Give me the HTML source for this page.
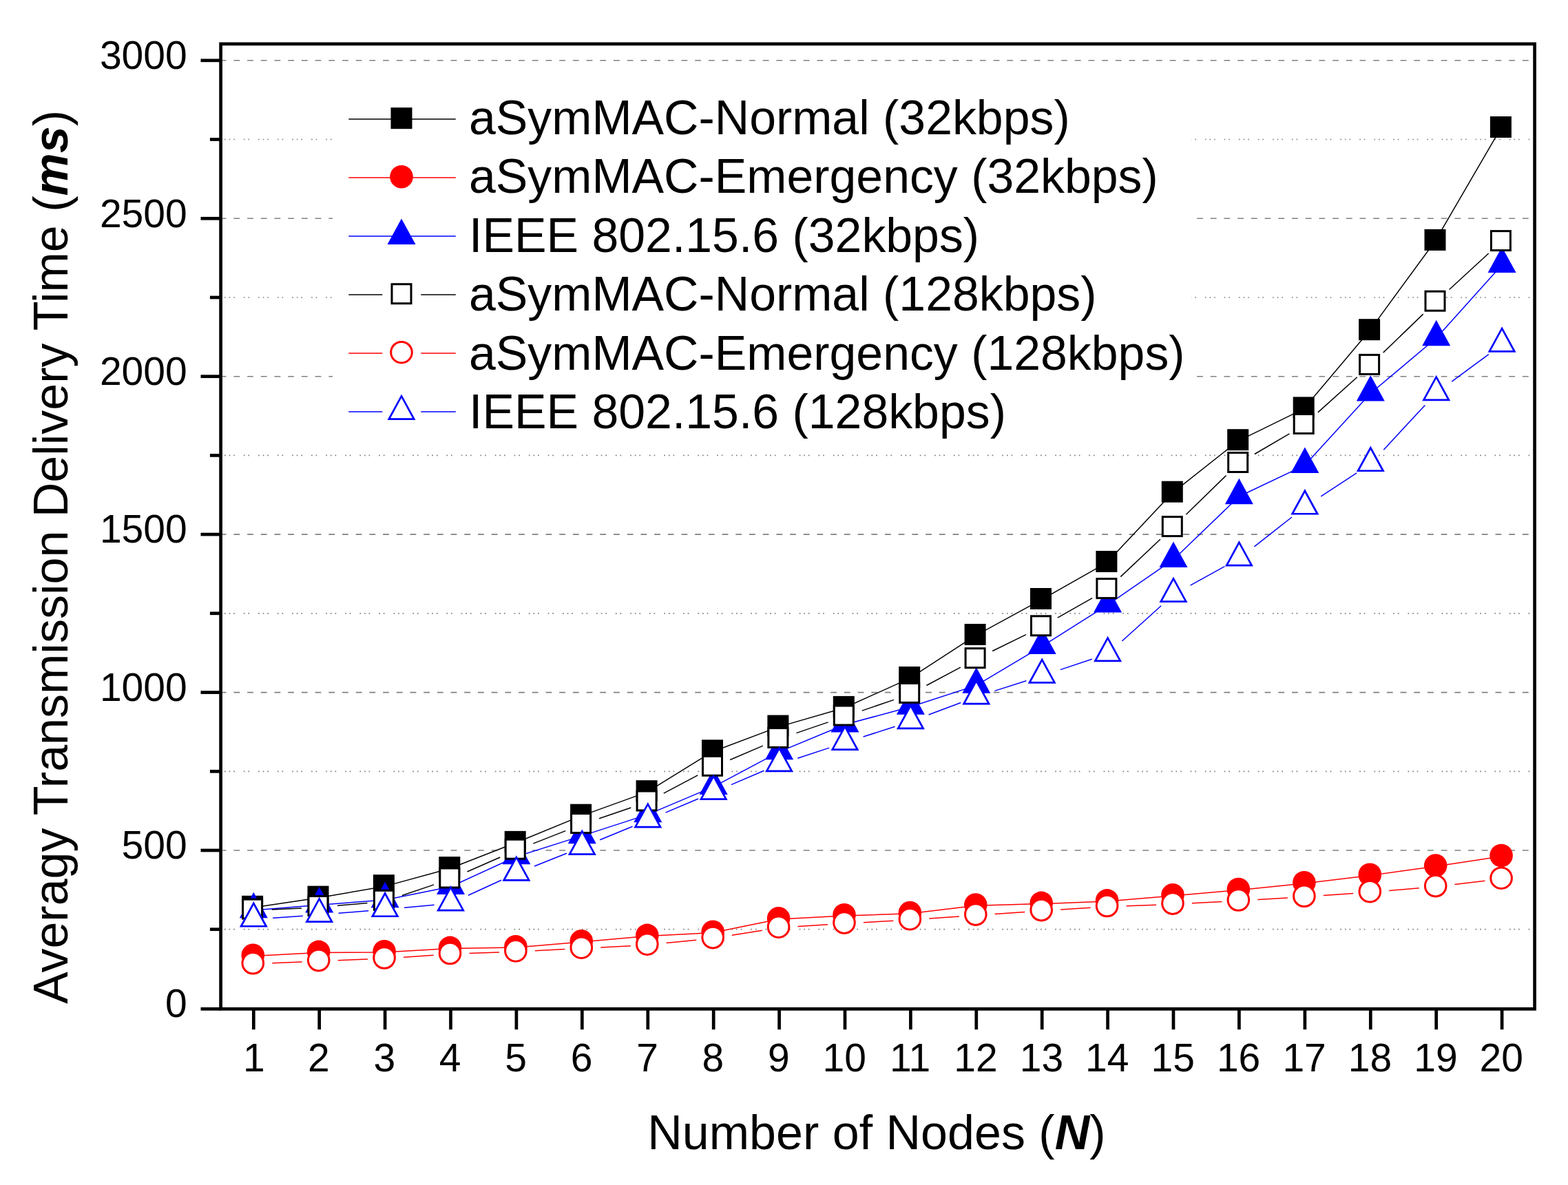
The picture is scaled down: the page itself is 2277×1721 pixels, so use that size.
<!DOCTYPE html>
<html><head><meta charset="utf-8"><title>Average Transmission Delivery Time</title>
<style>html,body{margin:0;padding:0;background:#fff;overflow:hidden}svg{display:block}text{font-family:"Liberation Sans",Arial,sans-serif}</style>
</head><body>
<svg width="2277" height="1721" viewBox="0 0 2277 1721">
<rect x="0" y="0" width="2277" height="1721" fill="#fff"/>
<g fill="none" stroke="#808080">
<line x1="323" y1="1349.7" x2="2226.2" y2="1349.7" stroke-width="1.7" stroke-dasharray="1.7 4.9 1.7 4.9 1.7 12.9 1.7 4.9 1.7 13.0" stroke-dashoffset="-3"/>
<line x1="323" y1="1235" x2="2226.2" y2="1235" stroke-width="1.6" stroke-dasharray="8.8 10.9" stroke-dashoffset="-16.4"/>
<line x1="323" y1="1120.3" x2="2226.2" y2="1120.3" stroke-width="1.7" stroke-dasharray="1.7 4.9 1.7 4.9 1.7 12.9 1.7 4.9 1.7 13.0" stroke-dashoffset="-3"/>
<line x1="323" y1="1005.6" x2="2226.2" y2="1005.6" stroke-width="1.6" stroke-dasharray="8.8 10.9" stroke-dashoffset="-16.4"/>
<line x1="323" y1="890.8" x2="2226.2" y2="890.8" stroke-width="1.7" stroke-dasharray="1.7 4.9 1.7 4.9 1.7 12.9 1.7 4.9 1.7 13.0" stroke-dashoffset="-3"/>
<line x1="323" y1="776.1" x2="2226.2" y2="776.1" stroke-width="1.6" stroke-dasharray="8.8 10.9" stroke-dashoffset="-16.4"/>
<line x1="323" y1="661.4" x2="2226.2" y2="661.4" stroke-width="1.7" stroke-dasharray="1.7 4.9 1.7 4.9 1.7 12.9 1.7 4.9 1.7 13.0" stroke-dashoffset="-3"/>
<line x1="323" y1="546.7" x2="2226.2" y2="546.7" stroke-width="1.6" stroke-dasharray="8.8 10.9" stroke-dashoffset="-16.4"/>
<line x1="323" y1="432" x2="2226.2" y2="432" stroke-width="1.7" stroke-dasharray="1.7 4.9 1.7 4.9 1.7 12.9 1.7 4.9 1.7 13.0" stroke-dashoffset="-3"/>
<line x1="323" y1="317.3" x2="2226.2" y2="317.3" stroke-width="1.6" stroke-dasharray="8.8 10.9" stroke-dashoffset="-16.4"/>
<line x1="323" y1="202.5" x2="2226.2" y2="202.5" stroke-width="1.7" stroke-dasharray="1.7 4.9 1.7 4.9 1.7 12.9 1.7 4.9 1.7 13.0" stroke-dashoffset="-3"/>
<line x1="323" y1="87.8" x2="2226.2" y2="87.8" stroke-width="1.6" stroke-dasharray="8.8 10.9" stroke-dashoffset="-16.4"/>
</g>
<rect x="483" y="110" width="1247" height="540" fill="#fff"/>
<g>
<path d="M366.6 1318.2 L462 1304 L557.4 1287.6 L652.8 1261.5 L748.2 1224.3 L843.6 1185.1 L939.1 1150.6 L1034.5 1091.7 L1129.9 1055.9 L1225.3 1028.3 L1320.7 985.4 L1416.1 923.4 L1511.5 871.4 L1606.9 817.4 L1702.3 716.1 L1797.7 640.6 L1893.2 593.8 L1988.6 480.6 L2084 350.3 L2179.4 186.4" fill="none" stroke="#000000" stroke-width="1.5" stroke-linejoin="round"/>
<rect x="351.1" y="1300.8" width="31" height="31" fill="#000000"/>
<rect x="446.5" y="1286.6" width="31" height="31" fill="#000000"/>
<rect x="541.9" y="1270.2" width="31" height="31" fill="#000000"/>
<rect x="637.3" y="1244.1" width="31" height="31" fill="#000000"/>
<rect x="732.7" y="1206.9" width="31" height="31" fill="#000000"/>
<rect x="828.1" y="1167.7" width="31" height="31" fill="#000000"/>
<rect x="923.6" y="1133.2" width="31" height="31" fill="#000000"/>
<rect x="1019" y="1074.3" width="31" height="31" fill="#000000"/>
<rect x="1114.4" y="1038.5" width="31" height="31" fill="#000000"/>
<rect x="1209.8" y="1010.9" width="31" height="31" fill="#000000"/>
<rect x="1305.2" y="968" width="31" height="31" fill="#000000"/>
<rect x="1400.6" y="906" width="31" height="31" fill="#000000"/>
<rect x="1496" y="854" width="31" height="31" fill="#000000"/>
<rect x="1591.4" y="800" width="31" height="31" fill="#000000"/>
<rect x="1686.8" y="698.7" width="31" height="31" fill="#000000"/>
<rect x="1782.2" y="623.2" width="31" height="31" fill="#000000"/>
<rect x="1877.7" y="576.4" width="31" height="31" fill="#000000"/>
<rect x="1973.1" y="463.2" width="31" height="31" fill="#000000"/>
<rect x="2068.5" y="332.9" width="31" height="31" fill="#000000"/>
<rect x="2163.9" y="169" width="31" height="31" fill="#000000"/>
</g>
<g>
<path d="M367.3 1388.5 L462.7 1383.6 L558.1 1382.9 L653.5 1377.6 L748.9 1376 L844.3 1368 L939.8 1359.6 L1035.2 1354.5 L1130.6 1335 L1226 1329.9 L1321.4 1326.8 L1416.8 1315.3 L1512.2 1312.6 L1607.6 1309.1 L1703 1301 L1798.4 1292.7 L1893.9 1282.9 L1989.3 1271.4 L2084.7 1258.3 L2180.1 1243.7" fill="none" stroke="#ff0000" stroke-width="1.5" stroke-linejoin="round"/>
<circle cx="367.3" cy="1387.3" r="16.8" fill="#ff0000"/>
<circle cx="462.7" cy="1382.4" r="16.8" fill="#ff0000"/>
<circle cx="558.1" cy="1381.7" r="16.8" fill="#ff0000"/>
<circle cx="653.5" cy="1376.4" r="16.8" fill="#ff0000"/>
<circle cx="748.9" cy="1374.8" r="16.8" fill="#ff0000"/>
<circle cx="844.3" cy="1366.8" r="16.8" fill="#ff0000"/>
<circle cx="939.8" cy="1358.4" r="16.8" fill="#ff0000"/>
<circle cx="1035.2" cy="1353.3" r="16.8" fill="#ff0000"/>
<circle cx="1130.6" cy="1333.8" r="16.8" fill="#ff0000"/>
<circle cx="1226" cy="1328.7" r="16.8" fill="#ff0000"/>
<circle cx="1321.4" cy="1325.6" r="16.8" fill="#ff0000"/>
<circle cx="1416.8" cy="1314.1" r="16.8" fill="#ff0000"/>
<circle cx="1512.2" cy="1311.4" r="16.8" fill="#ff0000"/>
<circle cx="1607.6" cy="1307.9" r="16.8" fill="#ff0000"/>
<circle cx="1703" cy="1299.8" r="16.8" fill="#ff0000"/>
<circle cx="1798.4" cy="1291.5" r="16.8" fill="#ff0000"/>
<circle cx="1893.9" cy="1281.7" r="16.8" fill="#ff0000"/>
<circle cx="1989.3" cy="1270.2" r="16.8" fill="#ff0000"/>
<circle cx="2084.7" cy="1257.1" r="16.8" fill="#ff0000"/>
<circle cx="2180.1" cy="1242.5" r="16.8" fill="#ff0000"/>
</g>
<g>
<path d="M368.3 1321.9 L463.7 1314.2 L559.1 1306.9 L654.5 1287.7 L749.9 1244 L845.3 1213.9 L940.8 1182.9 L1036.2 1142.6 L1131.6 1091.9 L1227 1052.3 L1322.4 1026.5 L1417.8 995.4 L1513.2 938.6 L1608.6 878.3 L1704 812.7 L1799.4 721 L1894.9 675.6 L1990.3 571.3 L2085.7 491 L2181.1 384.7" fill="none" stroke="#0000ff" stroke-width="1.5" stroke-linejoin="round"/>
<polygon points="368.3,1295.7 347.8,1333.2 388.8,1333.2" fill="#0000ff"/>
<polygon points="463.7,1288 443.2,1325.5 484.2,1325.5" fill="#0000ff"/>
<polygon points="559.1,1280.7 538.6,1318.2 579.6,1318.2" fill="#0000ff"/>
<polygon points="654.5,1261.5 634,1299 675,1299" fill="#0000ff"/>
<polygon points="749.9,1217.8 729.4,1255.3 770.4,1255.3" fill="#0000ff"/>
<polygon points="845.3,1187.7 824.8,1225.2 865.8,1225.2" fill="#0000ff"/>
<polygon points="940.8,1156.7 920.3,1194.2 961.3,1194.2" fill="#0000ff"/>
<polygon points="1036.2,1116.4 1015.7,1153.9 1056.7,1153.9" fill="#0000ff"/>
<polygon points="1131.6,1065.7 1111.1,1103.2 1152.1,1103.2" fill="#0000ff"/>
<polygon points="1227,1026.1 1206.5,1063.6 1247.5,1063.6" fill="#0000ff"/>
<polygon points="1322.4,1000.3 1301.9,1037.8 1342.9,1037.8" fill="#0000ff"/>
<polygon points="1417.8,969.2 1397.3,1006.7 1438.3,1006.7" fill="#0000ff"/>
<polygon points="1513.2,912.4 1492.7,949.9 1533.7,949.9" fill="#0000ff"/>
<polygon points="1608.6,852.1 1588.1,889.6 1629.1,889.6" fill="#0000ff"/>
<polygon points="1704,786.5 1683.5,824 1724.5,824" fill="#0000ff"/>
<polygon points="1799.4,694.8 1778.9,732.3 1819.9,732.3" fill="#0000ff"/>
<polygon points="1894.9,649.4 1874.4,686.9 1915.4,686.9" fill="#0000ff"/>
<polygon points="1990.3,545.1 1969.8,582.6 2010.8,582.6" fill="#0000ff"/>
<polygon points="2085.7,464.8 2065.2,502.3 2106.2,502.3" fill="#0000ff"/>
<polygon points="2181.1,358.5 2160.6,396 2201.6,396" fill="#0000ff"/>
</g>
<g>
<path d="M394.6 1321 L438 1318.9 M489.9 1315.3 L533.5 1311.6 M583.9 1300.5 L630.1 1284.9 M678.5 1266 L726.3 1245 M774.3 1225.1 L821.3 1206.6 M870.1 1188.7 L916.3 1173 M963.8 1152.1 L1013.3 1125.8 M1060.2 1103.5 L1107.8 1083.1 M1156.4 1064.6 L1202.6 1048.9 M1251.8 1032.1 L1298 1016.4 M1345.4 995.5 L1394.9 969.2 M1441.2 945.5 L1490 921.6 M1535.9 897.2 L1586.1 868.7 M1627.3 837.6 L1684.9 783.3 M1722.4 747.2 L1780.6 690.5 M1821.9 659.5 L1872.5 629.8 M1913.9 598.9 L1970.8 547.7 M2008.7 512.1 L2066.7 456.1 M2104.6 420.5 L2161.7 368" fill="none" stroke="#000000" stroke-width="1.5"/>
<rect x="352.6" y="1306.1" width="28" height="28" fill="#fff" stroke="#000000" stroke-width="3"/>
<rect x="448" y="1301.5" width="28" height="28" fill="#fff" stroke="#000000" stroke-width="3"/>
<rect x="543.4" y="1293.3" width="28" height="28" fill="#fff" stroke="#000000" stroke-width="3"/>
<rect x="638.8" y="1261" width="28" height="28" fill="#fff" stroke="#000000" stroke-width="3"/>
<rect x="734.2" y="1219.2" width="28" height="28" fill="#fff" stroke="#000000" stroke-width="3"/>
<rect x="829.6" y="1181.6" width="28" height="28" fill="#fff" stroke="#000000" stroke-width="3"/>
<rect x="925.1" y="1149" width="28" height="28" fill="#fff" stroke="#000000" stroke-width="3"/>
<rect x="1020.5" y="1098.3" width="28" height="28" fill="#fff" stroke="#000000" stroke-width="3"/>
<rect x="1115.9" y="1057.4" width="28" height="28" fill="#fff" stroke="#000000" stroke-width="3"/>
<rect x="1211.3" y="1025" width="28" height="28" fill="#fff" stroke="#000000" stroke-width="3"/>
<rect x="1306.7" y="992.4" width="28" height="28" fill="#fff" stroke="#000000" stroke-width="3"/>
<rect x="1402.1" y="941.7" width="28" height="28" fill="#fff" stroke="#000000" stroke-width="3"/>
<rect x="1497.5" y="894.8" width="28" height="28" fill="#fff" stroke="#000000" stroke-width="3"/>
<rect x="1592.9" y="840.6" width="28" height="28" fill="#fff" stroke="#000000" stroke-width="3"/>
<rect x="1688.3" y="750.6" width="28" height="28" fill="#fff" stroke="#000000" stroke-width="3"/>
<rect x="1783.7" y="657.5" width="28" height="28" fill="#fff" stroke="#000000" stroke-width="3"/>
<rect x="1879.2" y="601.5" width="28" height="28" fill="#fff" stroke="#000000" stroke-width="3"/>
<rect x="1974.6" y="515.4" width="28" height="28" fill="#fff" stroke="#000000" stroke-width="3"/>
<rect x="2070" y="423.2" width="28" height="28" fill="#fff" stroke="#000000" stroke-width="3"/>
<rect x="2165.4" y="335.6" width="28" height="28" fill="#fff" stroke="#000000" stroke-width="3"/>
</g>
<g>
<path d="M395.3 1398.8 L438.7 1396.9 M490.7 1394.7 L534.1 1393.1 M586.1 1390.3 L629.6 1387.3 M681.5 1384.6 L725 1383 M776.9 1380.7 L820.4 1378.6 M872.3 1375.9 L915.8 1373.7 M967.6 1369.6 L1011.3 1365.2 M1062.8 1358.3 L1106.9 1351.2 M1158.5 1345.6 L1202 1342.8 M1253.9 1339.7 L1297.4 1337.3 M1349.3 1334 L1392.9 1331 M1444.7 1327.4 L1488.3 1324.4 M1540.2 1321 L1583.7 1318.2 M1635.6 1315.7 L1679.1 1314.2 M1731 1311.8 L1774.5 1309.5 M1826.4 1306.5 L1869.9 1303.9 M1921.8 1300.6 L1965.3 1297.6 M2017.2 1293.5 L2060.8 1289.8 M2112.5 1284.5 L2156.3 1279.2" fill="none" stroke="#ff0000" stroke-width="1.5"/>
<circle cx="367.3" cy="1398.8" r="15.3" fill="#fff" stroke="#ff0000" stroke-width="3"/>
<circle cx="462.7" cy="1394.6" r="15.3" fill="#fff" stroke="#ff0000" stroke-width="3"/>
<circle cx="558.1" cy="1391" r="15.3" fill="#fff" stroke="#ff0000" stroke-width="3"/>
<circle cx="653.5" cy="1384.5" r="15.3" fill="#fff" stroke="#ff0000" stroke-width="3"/>
<circle cx="748.9" cy="1380.9" r="15.3" fill="#fff" stroke="#ff0000" stroke-width="3"/>
<circle cx="844.3" cy="1376.2" r="15.3" fill="#fff" stroke="#ff0000" stroke-width="3"/>
<circle cx="939.8" cy="1371.2" r="15.3" fill="#fff" stroke="#ff0000" stroke-width="3"/>
<circle cx="1035.2" cy="1361.6" r="15.3" fill="#fff" stroke="#ff0000" stroke-width="3"/>
<circle cx="1130.6" cy="1346.2" r="15.3" fill="#fff" stroke="#ff0000" stroke-width="3"/>
<circle cx="1226" cy="1340.1" r="15.3" fill="#fff" stroke="#ff0000" stroke-width="3"/>
<circle cx="1321.4" cy="1334.7" r="15.3" fill="#fff" stroke="#ff0000" stroke-width="3"/>
<circle cx="1416.8" cy="1328.1" r="15.3" fill="#fff" stroke="#ff0000" stroke-width="3"/>
<circle cx="1512.2" cy="1321.6" r="15.3" fill="#fff" stroke="#ff0000" stroke-width="3"/>
<circle cx="1607.6" cy="1315.5" r="15.3" fill="#fff" stroke="#ff0000" stroke-width="3"/>
<circle cx="1703" cy="1312.1" r="15.3" fill="#fff" stroke="#ff0000" stroke-width="3"/>
<circle cx="1798.4" cy="1307" r="15.3" fill="#fff" stroke="#ff0000" stroke-width="3"/>
<circle cx="1893.9" cy="1301.3" r="15.3" fill="#fff" stroke="#ff0000" stroke-width="3"/>
<circle cx="1989.3" cy="1294.7" r="15.3" fill="#fff" stroke="#ff0000" stroke-width="3"/>
<circle cx="2084.7" cy="1286.6" r="15.3" fill="#fff" stroke="#ff0000" stroke-width="3"/>
<circle cx="2180.1" cy="1275.2" r="15.3" fill="#fff" stroke="#ff0000" stroke-width="3"/>
</g>
<g>
<path d="M396.2 1333.2 L439.8 1330.2 M491.6 1326.2 L535.2 1322.7 M587 1318.2 L630.6 1314.2 M680 1300.3 L728.1 1278.3 M776 1258 L823 1239.3 M871.2 1219.8 L918.6 1200.2 M966.5 1180.1 L1014.1 1160 M1061.9 1139.6 L1109.5 1119.3 M1158.2 1101.2 L1204.2 1086.1 M1253.6 1070 L1299.6 1055.3 M1348.6 1038 L1395.3 1020.5 M1444.5 1003.4 L1490.4 988.7 M1539.8 972.6 L1585.8 957.3 M1629.4 931 L1686.2 879.7 M1728.6 850.1 L1778.4 822.7 M1821.5 793.8 L1876 751 M1918.3 720.9 L1970.2 686.9 M2009.3 653.2 L2069.4 588.4 M2108.2 554.2 L2161.8 514.6" fill="none" stroke="#0000ff" stroke-width="1.5"/>
<polygon points="368.3,1309.1 347.8,1346.6 388.8,1346.6" fill="#0000ff"/><polygon points="368.3,1314.7 352.4,1343.9 384.2,1343.9" fill="#fff"/>
<polygon points="463.7,1302.4 443.2,1339.9 484.2,1339.9" fill="#0000ff"/><polygon points="463.7,1308 447.8,1337.2 479.7,1337.2" fill="#fff"/>
<polygon points="559.1,1294.6 538.6,1332.1 579.6,1332.1" fill="#0000ff"/><polygon points="559.1,1300.2 543.2,1329.4 575.1,1329.4" fill="#fff"/>
<polygon points="654.5,1285.9 634,1323.4 675,1323.4" fill="#0000ff"/><polygon points="654.5,1291.5 638.6,1320.7 670.5,1320.7" fill="#fff"/>
<polygon points="749.9,1242.2 729.4,1279.7 770.4,1279.7" fill="#0000ff"/><polygon points="749.9,1247.8 734,1277 765.9,1277" fill="#fff"/>
<polygon points="845.3,1204.4 824.8,1241.9 865.8,1241.9" fill="#0000ff"/><polygon points="845.3,1210 829.4,1239.2 861.3,1239.2" fill="#fff"/>
<polygon points="940.8,1164.9 920.3,1202.4 961.3,1202.4" fill="#0000ff"/><polygon points="940.8,1170.5 924.8,1199.7 956.7,1199.7" fill="#fff"/>
<polygon points="1036.2,1124.5 1015.7,1162 1056.7,1162" fill="#0000ff"/><polygon points="1036.2,1130.1 1020.2,1159.3 1052.1,1159.3" fill="#fff"/>
<polygon points="1131.6,1083.8 1111.1,1121.3 1152.1,1121.3" fill="#0000ff"/><polygon points="1131.6,1089.4 1115.6,1118.6 1147.5,1118.6" fill="#fff"/>
<polygon points="1227,1052.5 1206.5,1090 1247.5,1090" fill="#0000ff"/><polygon points="1227,1058.1 1211,1087.3 1242.9,1087.3" fill="#fff"/>
<polygon points="1322.4,1021.8 1301.9,1059.3 1342.9,1059.3" fill="#0000ff"/><polygon points="1322.4,1027.4 1306.5,1056.6 1338.3,1056.6" fill="#fff"/>
<polygon points="1417.8,985.9 1397.3,1023.4 1438.3,1023.4" fill="#0000ff"/><polygon points="1417.8,991.5 1401.9,1020.7 1433.8,1020.7" fill="#fff"/>
<polygon points="1513.2,955.3 1492.7,992.8 1533.7,992.8" fill="#0000ff"/><polygon points="1513.2,960.9 1497.3,990.1 1529.2,990.1" fill="#fff"/>
<polygon points="1608.6,923.7 1588.1,961.2 1629.1,961.2" fill="#0000ff"/><polygon points="1608.6,929.3 1592.7,958.5 1624.6,958.5" fill="#fff"/>
<polygon points="1704,837.5 1683.5,875 1724.5,875" fill="#0000ff"/><polygon points="1704,843.1 1688.1,872.3 1720,872.3" fill="#fff"/>
<polygon points="1799.4,785 1778.9,822.5 1819.9,822.5" fill="#0000ff"/><polygon points="1799.4,790.6 1783.5,819.8 1815.4,819.8" fill="#fff"/>
<polygon points="1894.9,710.1 1874.4,747.6 1915.4,747.6" fill="#0000ff"/><polygon points="1894.9,715.7 1878.9,744.9 1910.8,744.9" fill="#fff"/>
<polygon points="1990.3,647.6 1969.8,685.1 2010.8,685.1" fill="#0000ff"/><polygon points="1990.3,653.2 1974.3,682.4 2006.2,682.4" fill="#fff"/>
<polygon points="2085.7,544.7 2065.2,582.2 2106.2,582.2" fill="#0000ff"/><polygon points="2085.7,550.3 2069.7,579.5 2101.6,579.5" fill="#fff"/>
<polygon points="2181.1,474.2 2160.6,511.7 2201.6,511.7" fill="#0000ff"/><polygon points="2181.1,479.8 2165.1,509 2197,509" fill="#fff"/>
</g>
<rect x="320.6" y="63.8" width="1908" height="1401.5" fill="none" stroke="#000" stroke-width="4.7" stroke-linejoin="miter"/>
<line x1="291.5" y1="1465.3" x2="320.6" y2="1465.3" stroke="#000" stroke-width="4.7"/>
<line x1="304.9" y1="1349.7" x2="320.6" y2="1349.7" stroke="#000" stroke-width="4.7"/>
<line x1="291.5" y1="1235" x2="320.6" y2="1235" stroke="#000" stroke-width="4.7"/>
<line x1="304.9" y1="1120.3" x2="320.6" y2="1120.3" stroke="#000" stroke-width="4.7"/>
<line x1="291.5" y1="1005.6" x2="320.6" y2="1005.6" stroke="#000" stroke-width="4.7"/>
<line x1="304.9" y1="890.8" x2="320.6" y2="890.8" stroke="#000" stroke-width="4.7"/>
<line x1="291.5" y1="776.1" x2="320.6" y2="776.1" stroke="#000" stroke-width="4.7"/>
<line x1="304.9" y1="661.4" x2="320.6" y2="661.4" stroke="#000" stroke-width="4.7"/>
<line x1="291.5" y1="546.7" x2="320.6" y2="546.7" stroke="#000" stroke-width="4.7"/>
<line x1="304.9" y1="432" x2="320.6" y2="432" stroke="#000" stroke-width="4.7"/>
<line x1="291.5" y1="317.3" x2="320.6" y2="317.3" stroke="#000" stroke-width="4.7"/>
<line x1="304.9" y1="202.5" x2="320.6" y2="202.5" stroke="#000" stroke-width="4.7"/>
<line x1="291.5" y1="87.8" x2="320.6" y2="87.8" stroke="#000" stroke-width="4.7"/>
<line x1="368.3" y1="1465.3" x2="368.3" y2="1495.2" stroke="#000" stroke-width="4.7"/>
<line x1="463.7" y1="1465.3" x2="463.7" y2="1495.2" stroke="#000" stroke-width="4.7"/>
<line x1="559.1" y1="1465.3" x2="559.1" y2="1495.2" stroke="#000" stroke-width="4.7"/>
<line x1="654.5" y1="1465.3" x2="654.5" y2="1495.2" stroke="#000" stroke-width="4.7"/>
<line x1="749.9" y1="1465.3" x2="749.9" y2="1495.2" stroke="#000" stroke-width="4.7"/>
<line x1="845.3" y1="1465.3" x2="845.3" y2="1495.2" stroke="#000" stroke-width="4.7"/>
<line x1="940.8" y1="1465.3" x2="940.8" y2="1495.2" stroke="#000" stroke-width="4.7"/>
<line x1="1036.2" y1="1465.3" x2="1036.2" y2="1495.2" stroke="#000" stroke-width="4.7"/>
<line x1="1131.6" y1="1465.3" x2="1131.6" y2="1495.2" stroke="#000" stroke-width="4.7"/>
<line x1="1227" y1="1465.3" x2="1227" y2="1495.2" stroke="#000" stroke-width="4.7"/>
<line x1="1322.4" y1="1465.3" x2="1322.4" y2="1495.2" stroke="#000" stroke-width="4.7"/>
<line x1="1417.8" y1="1465.3" x2="1417.8" y2="1495.2" stroke="#000" stroke-width="4.7"/>
<line x1="1513.2" y1="1465.3" x2="1513.2" y2="1495.2" stroke="#000" stroke-width="4.7"/>
<line x1="1608.6" y1="1465.3" x2="1608.6" y2="1495.2" stroke="#000" stroke-width="4.7"/>
<line x1="1704" y1="1465.3" x2="1704" y2="1495.2" stroke="#000" stroke-width="4.7"/>
<line x1="1799.4" y1="1465.3" x2="1799.4" y2="1495.2" stroke="#000" stroke-width="4.7"/>
<line x1="1894.9" y1="1465.3" x2="1894.9" y2="1495.2" stroke="#000" stroke-width="4.7"/>
<line x1="1990.3" y1="1465.3" x2="1990.3" y2="1495.2" stroke="#000" stroke-width="4.7"/>
<line x1="2085.7" y1="1465.3" x2="2085.7" y2="1495.2" stroke="#000" stroke-width="4.7"/>
<line x1="2181.1" y1="1465.3" x2="2181.1" y2="1495.2" stroke="#000" stroke-width="4.7"/>
<g font-size="57" fill="#000" text-anchor="end">
<text x="271.7" y="1476.7">0</text>
<text x="271.7" y="1247.3">500</text>
<text x="271.7" y="1017.9">1000</text>
<text x="271.7" y="788.4">1500</text>
<text x="271.7" y="559">2000</text>
<text x="271.7" y="329.6">2500</text>
<text x="271.7" y="100.1">3000</text>
</g>
<g font-size="57" fill="#000" text-anchor="middle">
<text x="368.8" y="1555.8">1</text>
<text x="462.9" y="1555.8">2</text>
<text x="558.3" y="1555.8">3</text>
<text x="653.7" y="1555.8">4</text>
<text x="749.1" y="1555.8">5</text>
<text x="844.5" y="1555.8">6</text>
<text x="940" y="1555.8">7</text>
<text x="1035.4" y="1555.8">8</text>
<text x="1130.8" y="1555.8">9</text>
<text x="1226.2" y="1555.8">10</text>
<text x="1321.6" y="1555.8">11</text>
<text x="1417" y="1555.8">12</text>
<text x="1512.4" y="1555.8">13</text>
<text x="1607.8" y="1555.8">14</text>
<text x="1703.2" y="1555.8">15</text>
<text x="1798.6" y="1555.8">16</text>
<text x="1894.1" y="1555.8">17</text>
<text x="1989.5" y="1555.8">18</text>
<text x="2084.9" y="1555.8">19</text>
<text x="2180.3" y="1555.8">20</text>
</g>
<text x="940.3" y="1668.5" font-size="70" fill="#000">Number of Nodes (<tspan font-weight="bold" font-style="italic">N</tspan>)</text>
<text transform="translate(97.5 1458) rotate(-90)" font-size="70" fill="#000">Averagy Transmission Delivery Time (<tspan font-weight="bold" font-style="italic">ms</tspan>)</text>
<line x1="506.3" y1="173" x2="661.8" y2="173" stroke="#000000" stroke-width="1.5"/>
<rect x="567.5" y="156.2" width="31" height="31" fill="#000000"/>
<text x="681" y="194.9" font-size="69.8" fill="#000">aSymMAC-Normal (32kbps)</text>
<line x1="506.3" y1="258" x2="661.8" y2="258" stroke="#ff0000" stroke-width="1.5"/>
<circle cx="583" cy="256.7" r="16.8" fill="#ff0000"/>
<text x="681" y="280.3" font-size="69.8" fill="#000">aSymMAC-Emergency (32kbps)</text>
<line x1="506.3" y1="343" x2="661.8" y2="343" stroke="#0000ff" stroke-width="1.5"/>
<polygon points="583,317.4 562.5,354.9 603.5,354.9" fill="#0000ff"/>
<text x="681" y="365.7" font-size="69.8" fill="#000">IEEE 802.15.6 (32kbps)</text>
<line x1="506.3" y1="428" x2="555.3" y2="428" stroke="#000000" stroke-width="1.5"/>
<line x1="611.3" y1="428" x2="661.8" y2="428" stroke="#000000" stroke-width="1.5"/>
<rect x="569" y="412.7" width="28" height="28" fill="#fff" stroke="#000000" stroke-width="3"/>
<text x="681" y="451.1" font-size="69.8" fill="#000">aSymMAC-Normal (128kbps)</text>
<line x1="506.3" y1="513" x2="555.3" y2="513" stroke="#ff0000" stroke-width="1.5"/>
<line x1="611.3" y1="513" x2="661.8" y2="513" stroke="#ff0000" stroke-width="1.5"/>
<circle cx="583" cy="511.7" r="15.3" fill="#fff" stroke="#ff0000" stroke-width="3"/>
<text x="681" y="536.5" font-size="69.8" fill="#000">aSymMAC-Emergency (128kbps)</text>
<line x1="506.3" y1="598" x2="555.3" y2="598" stroke="#0000ff" stroke-width="1.5"/>
<line x1="611.3" y1="598" x2="661.8" y2="598" stroke="#0000ff" stroke-width="1.5"/>
<polygon points="583,572.4 562.5,609.9 603.5,609.9" fill="#0000ff"/><polygon points="583,578 567.1,607.2 598.9,607.2" fill="#fff"/>
<text x="681" y="621.9" font-size="69.8" fill="#000">IEEE 802.15.6 (128kbps)</text>
</svg></body></html>
